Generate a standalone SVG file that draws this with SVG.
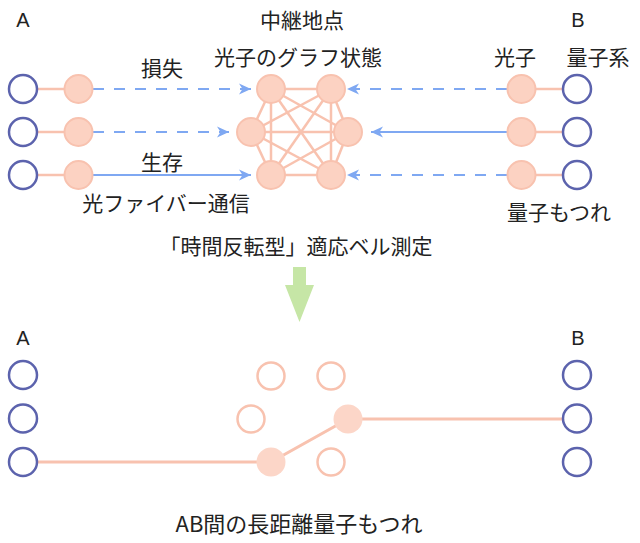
<svg xmlns="http://www.w3.org/2000/svg" width="640" height="543" viewBox="0 0 640 543">
<defs>
<marker id="ah" markerUnits="userSpaceOnUse" markerWidth="12" markerHeight="12" viewBox="0 0 12 12" refX="12" refY="6" orient="auto">
<path d="M0,0.5 L12,6 L0,11.5 L3.5,6 z" fill="#7fa8f2"/>
</marker>
<style>
text{font-family:"Noto Sans CJK JP","Noto Sans",sans-serif;font-size:21px;fill:#222;text-anchor:middle}
.lt{font-family:"Liberation Sans","Noto Sans",sans-serif;font-size:20px}
.q{fill:#fff;stroke:#5c63ad;stroke-width:2.5}
.p{fill:#fcd2c2;stroke:#f8c2af;stroke-width:2}
.po{fill:#fff;stroke:#f8c2af;stroke-width:2.5}
.pf{fill:#fcd6c8;stroke:none}
.e{stroke:#f8c2af;stroke-width:2.5;fill:none}
.d{stroke:#7fa8f2;stroke-width:2;fill:none;stroke-dasharray:11 10;marker-end:url(#ah)}
.s{stroke:#7fa8f2;stroke-width:2;fill:none;marker-end:url(#ah)}
</style>
</defs>
<rect width="640" height="543" fill="#fff"/>

<g id="labels">
<text class="lt" x="23" y="27">A</text>
<text class="lt" x="578" y="27">B</text>
<text x="302" y="28">中継地点</text>
<text x="298" y="65">光子のグラフ状態</text>
<text x="162" y="76">損失</text>
<text x="162" y="170">生存</text>
<text x="166" y="211">光ファイバー通信</text>
<text x="515" y="65">光子</text>
<text x="598" y="65">量子系</text>
<text x="559" y="220">量子もつれ</text>
<text x="296" y="254">「時間反転型」適応ベル測定</text>
<text class="lt" x="23" y="345">A</text>
<text class="lt" x="578" y="345">B</text>
<text x="299" y="532" style="font-size:22px">AB間の長距離量子もつれ</text>
</g>

<g id="connectors">
<line class="e" x1="38" y1="89" x2="64" y2="89"/>
<line class="e" x1="38" y1="132" x2="64" y2="132"/>
<line class="e" x1="38" y1="175" x2="64" y2="175"/>
<line class="e" x1="536" y1="89" x2="563" y2="89"/>
<line class="e" x1="536" y1="132" x2="563" y2="132"/>
<line class="e" x1="536" y1="175" x2="563" y2="175"/>
<line class="d" x1="93" y1="89" x2="251" y2="89"/>
<line class="d" x1="93" y1="132" x2="229" y2="132"/>
<line class="s" x1="93" y1="175" x2="251" y2="175"/>
<line class="d" x1="507" y1="89" x2="347" y2="89"/>
<line class="s" x1="507" y1="132" x2="371" y2="132"/>
<line class="d" x1="507" y1="175" x2="347" y2="175"/>
<g id="graph-edges" class="e">
<line x1="271" y1="89" x2="331" y2="89"/>
<line x1="271" y1="89" x2="251" y2="132"/>
<line x1="271" y1="89" x2="348" y2="132"/>
<line x1="271" y1="89" x2="271" y2="175"/>
<line x1="271" y1="89" x2="331" y2="175"/>
<line x1="331" y1="89" x2="251" y2="132"/>
<line x1="331" y1="89" x2="348" y2="132"/>
<line x1="331" y1="89" x2="271" y2="175"/>
<line x1="331" y1="89" x2="331" y2="175"/>
<line x1="251" y1="132" x2="348" y2="132"/>
<line x1="251" y1="132" x2="271" y2="175"/>
<line x1="251" y1="132" x2="331" y2="175"/>
<line x1="348" y1="132" x2="271" y2="175"/>
<line x1="348" y1="132" x2="331" y2="175"/>
<line x1="271" y1="175" x2="331" y2="175"/>
</g>
<polygon id="down-arrow" points="293,267 306,267 306,285 314,285 299.5,322 285,285 293,285" fill="#c6e6a6"/>
<polyline id="bottom-link" class="e" style="stroke-width:3" points="37,462 271,462 348,419 563,419"/>
</g>

<g id="A-top">
<circle class="q" cx="23" cy="89" r="14"/>
<circle class="q" cx="23" cy="132" r="14"/>
<circle class="q" cx="23" cy="175" r="14"/>
<circle class="p" cx="78.5" cy="89" r="14"/>
<circle class="p" cx="78.5" cy="132" r="14"/>
<circle class="p" cx="78.5" cy="175" r="14"/>
</g>
<g id="relay-top">
<circle class="p" cx="271" cy="89" r="14"/>
<circle class="p" cx="331" cy="89" r="14"/>
<circle class="p" cx="251" cy="132" r="14"/>
<circle class="p" cx="348" cy="132" r="14"/>
<circle class="p" cx="271" cy="175" r="14"/>
<circle class="p" cx="331" cy="175" r="14"/>
</g>
<g id="B-top">
<circle class="p" cx="521.5" cy="89" r="14"/>
<circle class="p" cx="521.5" cy="132" r="14"/>
<circle class="p" cx="521.5" cy="175" r="14"/>
<circle class="q" cx="577" cy="89" r="14"/>
<circle class="q" cx="577" cy="132" r="14"/>
<circle class="q" cx="577" cy="175" r="14"/>
</g>

<g id="A-bottom">
<circle class="q" cx="23" cy="375" r="14"/>
<circle class="q" cx="23" cy="418.5" r="14"/>
<circle class="q" cx="23" cy="462" r="14"/>
</g>
<g id="relay-bottom">
<circle class="po" cx="271" cy="376" r="13.5"/>
<circle class="po" cx="331" cy="376" r="13.5"/>
<circle class="po" cx="251" cy="419" r="13.5"/>
<circle class="pf" cx="348" cy="419" r="14.5"/>
<circle class="pf" cx="271" cy="462" r="14.5"/>
<circle class="po" cx="331" cy="462" r="13.5"/>
</g>
<g id="B-bottom">
<circle class="q" cx="577" cy="375" r="14"/>
<circle class="q" cx="577" cy="418.5" r="14"/>
<circle class="q" cx="577" cy="462" r="14"/>
</g>
</svg>
